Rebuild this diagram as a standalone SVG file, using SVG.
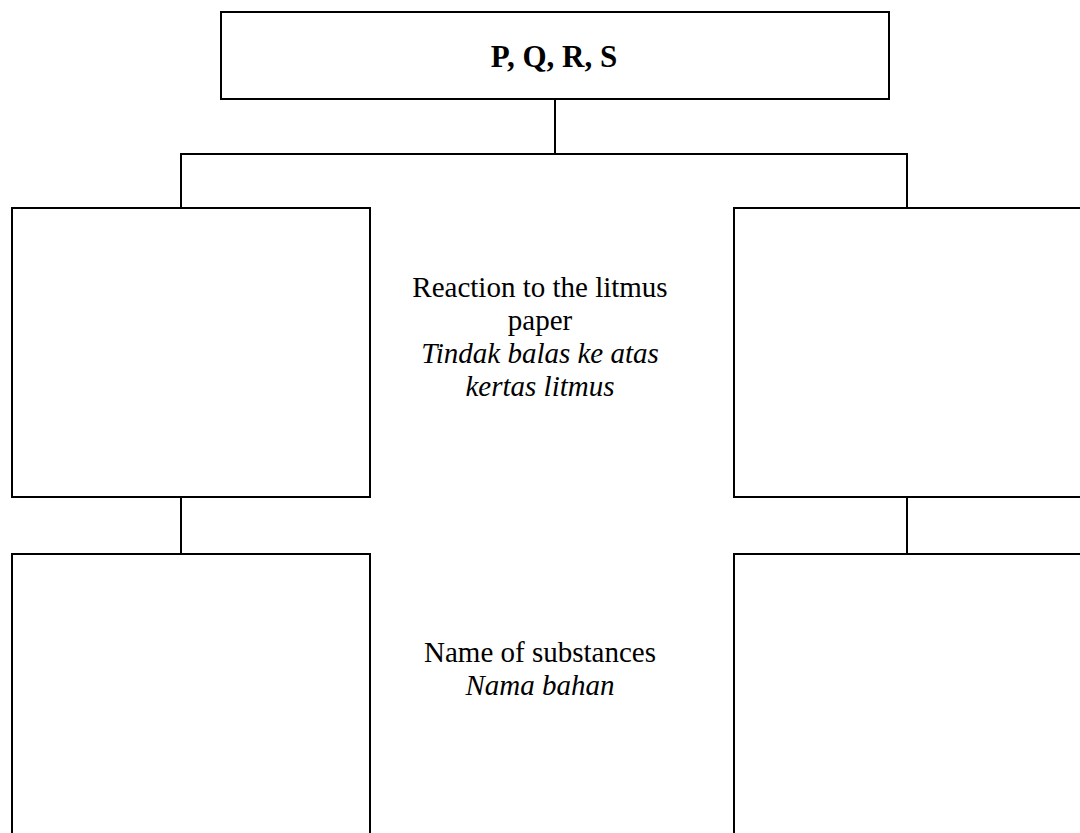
<svg xmlns="http://www.w3.org/2000/svg" width="1080" height="833" viewBox="0 0 1080 833">
<style>
.box{fill:#fff;stroke:#000;stroke-width:2}
.ln{fill:none;stroke:#000;stroke-width:2}
.t{font-family:"Liberation Serif",serif;font-size:29px;fill:#000;text-anchor:middle}
.i{font-style:italic}
.b{font-weight:bold;font-size:31px}
</style>
<rect width="1080" height="833" fill="#fff"/>
<g id="connectors">
<line class="ln" x1="555" y1="99" x2="555" y2="154"/>
<polyline class="ln" points="181,208 181,154 907,154 907,208"/>
<line class="ln" x1="181" y1="497" x2="181" y2="554"/>
<line class="ln" x1="907" y1="497" x2="907" y2="554"/>
</g>
<g id="top"><rect class="box" x="221" y="12" width="668" height="87"/><text class="t b" x="554" y="67">P, Q, R, S</text></g>
<g id="leftReaction"><rect class="box" x="12" y="208" width="358" height="289"/></g>
<g id="rightReaction"><rect class="box" x="734" y="208" width="400" height="289"/></g>
<g id="leftName"><rect class="box" x="12" y="554" width="358" height="320"/></g>
<g id="rightName"><rect class="box" x="734" y="554" width="400" height="320"/></g>
<g id="label1"><text class="t" x="540" y="297">Reaction to the litmus</text><text class="t" x="540" y="330">paper</text><text class="t i" x="540" y="363">Tindak balas ke atas</text><text class="t i" x="540" y="396">kertas litmus</text></g>
<g id="label2"><text class="t" x="540" y="662">Name of substances</text><text class="t i" x="540" y="695">Nama bahan</text></g>
</svg>
